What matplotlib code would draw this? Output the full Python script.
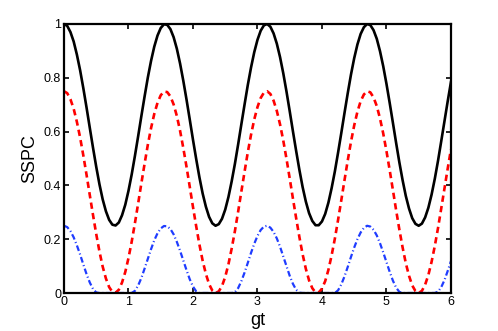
import matplotlib
matplotlib.use("Agg")
import numpy as np
import matplotlib.pyplot as plt

plt.rcParams['font.family'] = ['Liberation Sans', 'DejaVu Sans']

# sample positions along gt (every 0.05 from 0 to 6)
gt = np.linspace(0, 6, 121)

# values
sspc_black = [1.000, 0.993, 0.970, 0.935, 0.886, 0.828, 0.761, 0.689, 0.614, 0.540,
              0.469, 0.404, 0.348, 0.304, 0.272, 0.254, 0.251, 0.262, 0.289, 0.328,
              0.380, 0.441, 0.510, 0.583, 0.658, 0.731, 0.801, 0.863, 0.916, 0.957,
              0.985, 0.999, 0.997, 0.981, 0.951, 0.908, 0.853, 0.789, 0.719, 0.645,
              0.570, 0.498, 0.430, 0.370, 0.321, 0.283, 0.259, 0.250, 0.256, 0.276,
              0.310, 0.357, 0.415, 0.480, 0.552, 0.627, 0.701, 0.773, 0.838, 0.895,
              0.941, 0.975, 0.995, 1.000, 0.990, 0.965, 0.927, 0.877, 0.817, 0.749,
              0.676, 0.601, 0.528, 0.458, 0.394, 0.340, 0.297, 0.268, 0.252, 0.252,
              0.266, 0.294, 0.336, 0.390, 0.452, 0.522, 0.595, 0.670, 0.743, 0.812,
              0.873, 0.924, 0.963, 0.988, 1.000, 0.996, 0.977, 0.945, 0.899, 0.843,
              0.778, 0.707, 0.633, 0.558, 0.486, 0.420, 0.361, 0.314, 0.278, 0.257,
              0.250, 0.258, 0.281, 0.317, 0.366, 0.425, 0.492, 0.565, 0.639, 0.713,
              0.784]

sspc_red = [0.750, 0.743, 0.720, 0.685, 0.636, 0.578, 0.511, 0.439, 0.364, 0.290,
            0.219, 0.154, 0.098, 0.054, 0.022, 0.004, 0.001, 0.012, 0.039, 0.078,
            0.130, 0.191, 0.260, 0.333, 0.408, 0.481, 0.551, 0.613, 0.666, 0.707,
            0.735, 0.749, 0.747, 0.731, 0.701, 0.658, 0.603, 0.539, 0.469, 0.395,
            0.320, 0.248, 0.180, 0.120, 0.071, 0.033, 0.009, 0.000, 0.006, 0.026,
            0.060, 0.107, 0.165, 0.230, 0.302, 0.377, 0.451, 0.523, 0.588, 0.645,
            0.691, 0.725, 0.745, 0.750, 0.740, 0.715, 0.677, 0.627, 0.567, 0.499,
            0.426, 0.351, 0.278, 0.208, 0.144, 0.090, 0.047, 0.018, 0.002, 0.002,
            0.016, 0.044, 0.086, 0.140, 0.202, 0.272, 0.345, 0.420, 0.493, 0.562,
            0.623, 0.674, 0.713, 0.738, 0.750, 0.746, 0.727, 0.695, 0.649, 0.593,
            0.528, 0.457, 0.383, 0.308, 0.236, 0.170, 0.111, 0.064, 0.028, 0.007,
            0.000, 0.008, 0.031, 0.067, 0.116, 0.175, 0.242, 0.315, 0.389, 0.463,
            0.534]

sspc_blue = [0.250, 0.245, 0.230, 0.207, 0.177, 0.143, 0.106, 0.070, 0.039, 0.015,
             0.002, 0.000, 0.000, 0.000, 0.000, 0.000, 0.000, 0.000, 0.000, 0.000,
             0.000, 0.000, 0.008, 0.028, 0.056, 0.091, 0.127, 0.163, 0.196, 0.222,
             0.240, 0.249, 0.248, 0.238, 0.218, 0.190, 0.157, 0.121, 0.085, 0.051,
             0.024, 0.006, 0.000, 0.000, 0.000, 0.000, 0.000, 0.000, 0.000, 0.000,
             0.000, 0.000, 0.000, 0.003, 0.018, 0.044, 0.076, 0.112, 0.149, 0.183,
             0.212, 0.234, 0.247, 0.250, 0.243, 0.227, 0.203, 0.172, 0.136, 0.100,
             0.064, 0.034, 0.012, 0.001, 0.000, 0.000, 0.000, 0.000, 0.000, 0.000,
             0.000, 0.000, 0.000, 0.000, 0.000, 0.010, 0.032, 0.062, 0.097, 0.134,
             0.169, 0.200, 0.225, 0.242, 0.250, 0.247, 0.235, 0.214, 0.185, 0.151,
             0.115, 0.079, 0.046, 0.020, 0.004, 0.000, 0.000, 0.000, 0.000, 0.000,
             0.000, 0.000, 0.000, 0.000, 0.000, 0.000, 0.005, 0.022, 0.048, 0.082,
             0.118]

xticks = [0, 1, 2, 3, 4, 5, 6]
yticks = [0, 0.2, 0.4, 0.6, 0.8, 1]
yticklabels = ['0', '0.2', '0.4', '0.6', '0.8', '1']

fig = plt.figure(figsize=(4.98, 3.31), dpi=100)
ax = fig.add_axes([0.1285, 0.1148, 0.777, 0.8127])

ax.plot(gt, sspc_black, color='k', lw=1.9, ls='-')
ax.plot(gt, sspc_red, color='r', lw=1.9, ls=(0, (2.4, 1.6)))
ax.plot(gt, sspc_blue, color='#1f3cff', lw=1.6, ls=(0, (2.6, 1.2, 0.5, 1.2)))

ax.set_xlim(0, 6)
ax.set_ylim(0, 1)
ax.set_xticks(xticks)
ax.set_xticklabels([str(t) for t in xticks])
ax.set_yticks(yticks)
ax.set_yticklabels(yticklabels)
ax.tick_params(direction='in', top=True, right=True, length=3.5, width=1.2,
               labelsize=9, pad=2)
for s in ax.spines.values():
    s.set_linewidth(1.6)

ax.set_xlabel('gt', fontsize=13, labelpad=3)
ax.set_ylabel('SSPC', fontsize=13, labelpad=4)

fig.savefig('out.png', dpi=100)
